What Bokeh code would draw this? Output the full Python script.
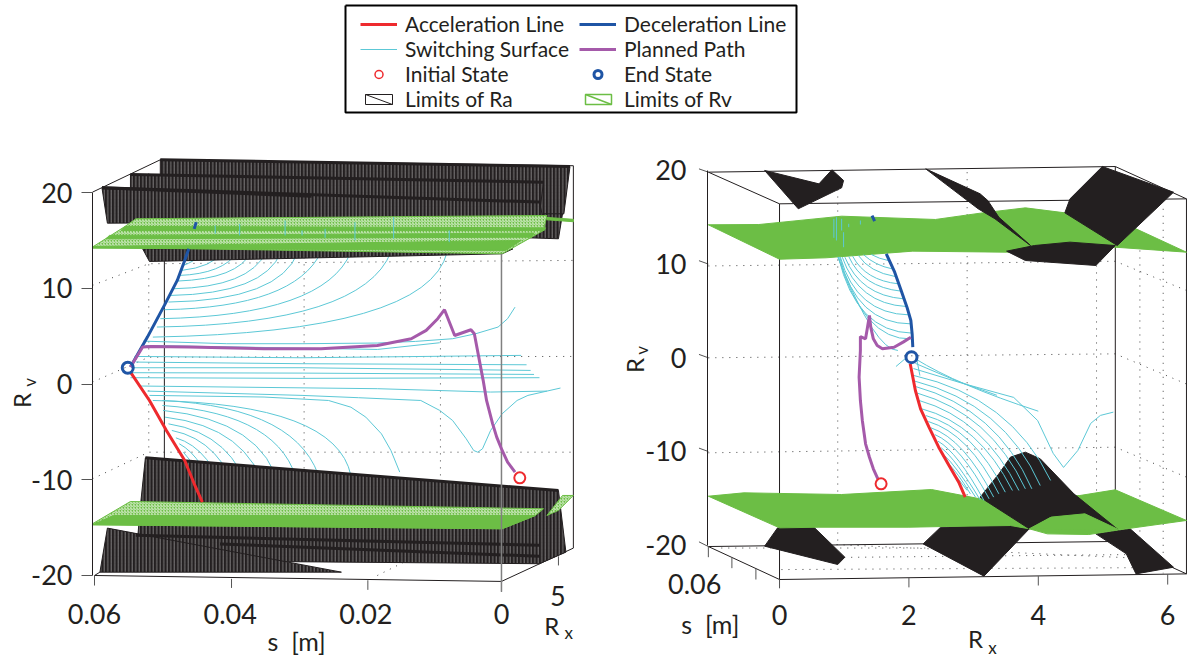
from bokeh.plotting import figure
from bokeh.layouts import column, row
from bokeh.models import Range1d, FixedTicker, Label, Legend, LegendItem
from bokeh.embed import file_html
from bokeh.resources import INLINE

FONT = "Lato"
RED, BLUE, PURPLE, CYAN, GREEN, BLACK = "#EE2A2E", "#1F55A5", "#A55AAA", "#5CC8D6", "#6CBE45", "#231F20"

# ---------- left view: s [m] against Rv ----------
L_s_ticks = [0.06, 0.04, 0.02, 0]
Rv_ticks = [-20, -10, 0, 10, 20]
Rv_tick_text = {-20: "-20", -10: "-10", 0: "0", 10: "10", 20: "20"}

L_ra_xs = [
    [0.0503, -0.0101, -0.0092, -0.0062, 0.0503],
    [0.0547, -0.0062, -0.0056, 0.0547],
    [0.0589, -0.0056, -0.0062, 0.0581],
    [0.0529, -0.0017, -0.0001, 0.0519],
    [-0.0062, -0.009, -0.0084, -0.0039],
    [0.0525, -0.0084, -0.0095, -0.0056, 0.0539, 0.0533],
    [0.0581, 0.0236, 0.0592],
]
L_ra_ys = [
    [23.42, 22.72, 17.78, 17.08, 17.78],
    [21.88, 21.08, 17.78, 18.13],
    [20.49, 19.0, 17.08, 16.8],
    [14.12, 14.12, 13.6, 12.8],
    [17.78, 17.78, 15.17, 15.27],
    [-7.71, -11.12, -17.56, -18.77, -18.43, -13.2],
    [-15.05, -19.65, -19.65],
]
L_ra_edge_xs = [[0.0547, -0.0062], [0.0589, -0.0056], [0.0503, -0.0101], [0.0525, -0.0084], [0.0539, -0.0056], [0.0415, -0.0056], [0.0589, 0.028]]
L_ra_edge_ys = [[21.88, 21.08], [20.49, 19.0], [23.42, 22.72], [-7.71, -11.12], [-15.8, -16.85], [-16.7, -18.0], [20.49, 19.6]]

L_rv_xs = [
    [0.0603, 0.0555, 0.0539, -0.0067, -0.0062, -0.0001],
    [0.0603, 0.0547, -0.0062, -0.005, -0.0001, 0.0603],
    [-0.0067, -0.009, -0.0106, -0.0084],
]
L_rv_ys = [
    [14.3, 16.46, 17.26, 17.6, 16.04, 13.6],
    [-14.6, -12.27, -13.03, -13.73, -15.12, -14.7],
    [-13.73, -11.64, -11.64, -13.2],
]
L_rv_solid_xs = [
    [0.0555, -0.0065, -0.0063, 0.0561],
    [0.0578, -0.0048, -0.0045, 0.0583],
    [0.0603, -0.0029, -0.0006, 0.0603],
    [-0.0067, -0.0106, -0.0106, -0.0067],
    [0.0572, -0.005, -0.0001, 0.0603],
]
L_rv_solid_ys = [
    [16.46, 16.32, 16.04, 16.04],
    [15.52, 15.76, 15.34, 15.17],
    [14.37, 14.99, 13.95, 14.19],
    [17.4, 17.2, 16.95, 17.15],
    [-13.73, -13.73, -15.12, -14.7],
]

L_frame_xs = [[0.0497, 0.0497], [-0.0106, -0.0106], [0.0603, 0.0503], [0.0503, -0.0106],
              [0.06, 0.0], [0.0, -0.0106], [0.06, 0.0592]]
L_frame_ys = [[23.42, -15.0], [22.8, -17.14], [20.04, 23.42], [23.42, 22.8],
              [-20.0, -20.62], [-20.62, -17.14], [-20.0, -19.65]]
L_front_xs = [[0.0, 0.0]]
L_front_ys = [[13.6, -21.7]]
L_tick_xs = [[0.06, 0.06], [0.0398, 0.0398], [0.0197, 0.0197], [0.0, 0.0], [-0.0084, -0.0084]]
L_tick_ys = [[-20.0, -21.05], [-20.35, -21.3], [-20.5, -21.5], [-20.62, -21.7], [-18.0, -18.95]]

L_dot_xs = [[0.0603, 0.052, -0.0106], [0.0603, 0.052, -0.0106], [0.0603, 0.052, -0.0106],
            [0.052, 0.052], [0.0291, 0.0291], [0.009, 0.009], [0.0183, 0.009]]
L_dot_ys = [[10.3, 12.56, 12.91], [0.2, 2.8, 2.88], [-9.9, -7.12, -7.12],
            [22.0, -7.12], [22.0, -16.7], [22.0, -16.7], [-20.0, -16.7]]

L_blue_s = [0.0547, 0.0522, 0.0497, 0.0478, 0.0467, 0.0461]
L_blue_v = [1.77, 4.9, 8.21, 10.82, 12.91, 14.12]
L_blue2_s = [0.0450, 0.0453]
L_blue2_v = [16.91, 16.21]
L_red_s = [0.0547, 0.0519, 0.0494, 0.0467, 0.0453, 0.0441]
L_red_v = [1.25, -1.72, -4.85, -7.99, -10.42, -12.33]
L_path_s = [0.0547, 0.0529, 0.0517, 0.0461, 0.0350, 0.0266, 0.0183, 0.0133, 0.0111, 0.0094, 0.0084,
            0.0069, 0.0045, 0.0040, 0.0027, 0.0022, 0.0013, 0.0007, -0.0001, -0.0009, -0.0020]
L_path_v = [1.77, 3.86, 3.93, 3.86, 3.68, 3.68, 4.03, 4.73, 5.6, 6.82, 7.76,
            5.07, 5.67, 5.25, 0.38, -1.72, -4.16, -5.55, -6.94, -8.16, -9.2]
L_init = (-0.0027, -9.8)
L_end = (0.0551, 1.7)

# quadratic switching curves: start, control, end
L_q_s0 = [.0469, .0472, .0475, .0478, .0483, .0488, .0491, .0497, .0503, .0508, .0514,
          .0514, .0500, .0500, .0499, .0496, .0491, .0486, .0480, .0475, .0469, .0464]
L_q_v0 = [12.38, 11.86, 11.34, 10.75, 9.95, 9.25, 8.56, 7.76, 6.82, 5.95, 4.9,
          -1.72, -1.72, -2.24, -2.76, -3.46, -4.16, -4.85, -5.62, -6.24, -7.12, -8.16]
L_q_sc = [.0455, .0427, .0411, .0389, .0372, .0350, .0327, .0305, .0261, .0205, .0110,
          .0244, .0294, .0322, .0350, .0372, .0394, .0411, .0427, .0439, .0447, .0453]
L_q_vc = [12.73, 12.21, 11.51, 10.99, 10.12, 9.43, 8.73, 8.03, 7.16, 6.29, 5.42,
          -2.07, -2.42, -3.11, -3.81, -4.5, -5.2, -5.9, -6.77, -7.64, -8.68, -9.55]
L_q_s1 = [.0436, .0411, .0389, .0369, .0347, .0325, .0300, .0266, .0222, .0163, .0080,
          .0222, .0266, .0300, .0327, .0347, .0369, .0386, .0405, .0419, .0432, .0439]
L_q_v1 = [13.78, 13.78, 13.78, 13.78, 13.78, 13.78, 13.78, 13.78, 13.78, 13.78, 13.78,
          -9.55, -10.42, -10.6, -10.94, -11.46, -11.99, -12.33, -12.33, -12.33, -12.33, -11.81]
L_curve_xs = [
    [.0528, .0405, .0294, .0183, .0127, .0072, .0038, .0005, -.0009, -.0020],
    [.0525, .0183, .0091],
    [.0541, .0294, -.0029],
    [.0539, .0294, -.0037],
    [.0544, .0294, -.0043],
    [.0547, .0294, -.0048],
    [.0547, .0294, -.0056],
    [.0533, .0183, .0016, -.0067],
    [.0522, .0294, .0211, .0119, .0091, .0072, .0052, .0041, .0035, .0028, .0016, -.0001, -.0023, -.0039, -.0067, -.0087],
    [.0519, .0350, .0255, .0222, .0200, .0177, .0163, .0150],
]
L_curve_ys = [
    [4.48, 4.21, 4.21, 4.28, 4.45, 4.73, 5.25, 5.95, 6.82, 8.03],
    [4.03, 3.61, 4.31],
    [2.88, 2.74, 2.99],
    [2.29, 2.12, 2.01],
    [1.7, 1.7, 1.42],
    [1.18, 1.14, 1.0],
    [0.66, 0.59, 0.66],
    [-0.21, -0.49, -0.84, -0.74],
    [-0.74, -1.19, -1.43, -1.72, -2.76, -3.81, -5.72, -6.94, -7.12, -6.77, -4.85, -3.11, -1.72, -1.19, -0.74, -0.42],
    [-1.19, -1.36, -1.72, -2.42, -3.46, -5.2, -6.94, -9.2],
]
L_stub_s = [.0422, .0386, .0319, .0294, .0260, .0216, .0159, .0077]
L_stub_v0 = [16.56, 16.73, 17.08, 16.04, 16.21, 16.91, 17.43, 16.04]
L_stub_v1 = [15.69, 15.52, 15.52, 15.52, 15.27, 14.99, 15.17, 14.82]

# ---------- right view: Rx against Rv ----------
R_x_ticks = [0, 2, 4, 6]

R_rv_xs = [
    [-1.10, -.32, .96, 2.41, 3.10, 3.80, 4.41, 5.51, 6.29, 5.19, 3.51, 2.06, .72, 0],
    [-1.10, -.55, .96, 2.35, 3.10, 4.64, 5.19, 6.29, 5.25, 4.78, 4.14, 3.86, 3.57, 2.58, 2.0, .61, 0],
]
R_rv_ys = [
    [14.19, 14.22, 15.11, 14.76, 15.43, 16.0, 15.47, 13.76, 11.27, 11.8, 11.27, 11.38, 10.67, 10.52],
    [-14.77, -14.41, -14.59, -14.06, -15.05, -14.7, -14.09, -17.36, -18.36, -18.86, -18.79, -18.25, -17.9, -18.0, -18.08, -18.08, -18.15],
]
R_rv_front_xs = [[3.86, 4.20, 4.72, 5.25]]
R_rv_front_ys = [[-18.25, -17.0, -16.65, -18.36]]
R_ra_back_xs = [
    [-.03, .52, 1.01, .90, -.23],
    [2.49, 3.57, 3.86, 3.16, 2.22],
    [4.89, 5.42, 6.09, 5.51, 5.36],
]
R_ra_back_ys = [
    [-18.15, -18.0, -21.28, -22.06, -20.1],
    [-18.08, -17.9, -18.25, -23.3, -19.86],
    [-18.79, -18.25, -22.35, -23.06, -20.92],
]
R_ra_xs = [
    [-.23, .61, .81, .99, .96, .29],
    [2.26, 3.10, 3.22, 3.39, 3.88, 3.57, 3.33, 3.07],
    [4.99, 6.09, 5.22, 4.41, 4.49],
    [3.51, 3.94, 4.49, 5.19, 4.89, 3.8],
    [3.10, 3.39, 3.57, 3.8, 4.03, 4.55, 5.25, 4.72, 4.17, 3.86],
]
R_ra_ys = [
    [19.99, 18.56, 20.06, 18.92, 18.14, 15.9],
    [20.16, 17.5, 16.78, 15.0, 11.98, 13.58, 14.83, 15.9],
    [20.41, 17.67, 11.98, 15.47, 16.96],
    [11.38, 11.98, 12.34, 11.98, 9.85, 10.38],
    [-14.88, -12.39, -10.6, -10.07, -10.78, -14.52, -18.43, -16.65, -17.01, -18.25],
]
R_frame_xs = [[0, 0], [5.19, 5.19], [6.29, 6.29], [-1.10, 5.19], [-1.10, 0], [0, 6.29], [5.19, 6.29],
              [-1.10, 5.19], [-1.10, 0], [0, 6.29], [5.19, 6.29]]
R_frame_ys = [[16.43, -23.66], [20.41, -19.68], [16.96, -23.06], [19.81, 20.41], [19.81, 16.43], [16.43, 16.96], [20.41, 16.96],
              [-20.14, -19.6], [-20.14, -23.66], [-23.66, -23.06], [-19.6, -23.06]]
R_tick_xs = [[-1.245, -1.10], [-1.245, -1.10], [-1.245, -1.10], [-1.245, -1.10], [-1.245, -1.10],
             [0, 0], [2.0, 2.0], [4.0, 4.0], [6.0, 6.0], [-1.10, -1.10], [-.736, -.736], [-.365, -.365]]
R_tick_ys = [[20.16, 19.81], [10.36, 10.0], [0.36, 0.0], [-9.64, -10.0], [-19.64, -20.14],
             [-23.66, -24.6], [-23.48, -24.5], [-23.3, -24.3], [-23.1, -24.2], [-20.14, -21.28], [-21.35, -22.45], [-22.52, -23.66]]
R_dot_xs = [[-1.10, 5.19, 6.29], [-1.10, 5.19, 6.29], [-1.10, 5.19, 6.29],
            [.90, .90], [2.9, 2.9], [4.9, 4.9], [5.57, 5.57], [5.93, 5.93],
            [.03, 5.5], [1.0, 5.4], [-.9, 2.3], [.45, 5.9]]
R_dot_ys = [[9.8, 10.3, 7.18], [0.0, 0.42, -2.8], [-10.14, -9.54, -12.74],
            [19.45, -19.5], [19.8, -19.85], [9.85, -18.6], [11.45, -22.0], [15.9, -23.0],
            [-22.6, -22.4], [-21.3, -21.0], [-20.3, -20.3], [-19.8, -21.5]]
R_blue_x = [2.06, 2.05, 2.03, 1.97, 1.88, 1.78, 1.65]
R_blue_v = [1.13, 2.56, 3.98, 5.4, 7.18, 9.14, 11.1]
R_blue2_x = [1.47, 1.43]
R_blue2_v = [14.58, 15.18]
R_red_x = [2.02, 2.05, 2.10, 2.18, 2.31, 2.46, 2.62, 2.77, 2.87]
R_red_v = [-0.64, -1.71, -3.49, -5.45, -7.4, -9.54, -11.49, -13.27, -14.87]
R_path_x = [2.03, 1.91, 1.77, 1.59, 1.51, 1.45, 1.41, 1.39, 1.36, 1.33, 1.25, 1.25, 1.23, 1.25, 1.28, 1.33, 1.39, 1.45, 1.52]
R_path_v = [2.2, 1.67, 1.13, 0.96, 1.31, 2.02, 3.27, 4.51, 3.27, 2.02, 2.27, 0.78, -2.07, -4.56, -6.69, -9.18, -10.61, -11.85, -12.92]
R_init = (1.57, -13.45)
R_end = (2.04, 0.07)
R_q_x0 = [1.68, 1.74, 1.79, 1.84, 1.88, 1.92, 1.96, 2.0, 2.03, 2.05, 2.03, 1.83,
          2.076, 2.09, 2.10, 2.13, 2.16, 2.20, 2.26, 2.30, 2.34, 2.40, 2.45, 2.50, 2.55, 2.60, 2.67, 2.10]
R_q_v0 = [10.38, 9.49, 8.67, 7.89, 7.11, 6.29, 5.47, 4.58, 3.62, 2.63, 2.02, 0.78,
          -1.89, -2.49, -3.06, -3.77, -4.56, -5.45, -6.16, -6.8, -7.47, -8.19, -8.9, -9.61, -10.43, -11.24, -12.2, -0.11]
R_q_xc = [1.54, 1.48, 1.39, 1.33, 1.28, 1.25, 1.22, 1.19, 1.19, 1.19, 1.30, 1.48,
          3.57, 3.47, 3.36, 3.26, 3.16, 3.08, 3.00, 2.93, 2.85, 2.80, 2.75, 2.72, 2.72, 2.75, 2.77, 2.75]
R_q_vc = [10.56, 9.85, 9.14, 8.25, 7.54, 6.65, 5.76, 4.69, 3.62, 2.73, 1.85, 0.78,
          -4.2, -4.91, -5.45, -5.98, -6.51, -7.05, -7.58, -8.11, -8.65, -9.36, -10.07, -10.78, -11.49, -12.2, -12.92, -2.9]
R_q_x1 = [1.42, 1.30, 1.22, 1.13, 1.07, 1.01, .97, .94, .93, .91, .91, .90,
          4.19, 4.03, 3.90, 3.80, 3.70, 3.60, 3.49, 3.39, 3.31, 3.24, 3.16, 3.10, 3.03, 2.95, 2.90, 4.0]
R_q_v1 = [11.02, 10.99, 10.91, 10.84, 10.81, 10.74, 10.74, 10.74, 10.74, 10.74, 10.74, 10.74,
          -13.09, -13.63, -13.98, -13.98, -14.16, -14.16, -14.34, -14.52, -14.87, -15.05, -15.23, -15.16, -14.87, -14.52, -14.16, -5.7]
R_curve_xs = [[2.07, 2.84, 3.62, 3.99, 4.23, 4.39, 4.61, 4.81, 4.96, 5.16], [1.80, 1.94], [2.12, 2.17],
              [.84, .84], [.88, .88], [.99, .99], [.96, .96], [1.07, 1.07], [1.25, 1.25], [2.10, 2.75, 3.36]]
R_curve_ys = [[-1.15, -2.75, -4.23, -6.7, -10.2, -11.7, -9.9, -7.0, -6.15, -5.8], [-0.93, -0.11], [-0.11, -1.9],
              [14.83, 12.8], [15.0, 12.52], [13.4, 11.8], [14.83, 13.58], [14.3, 13.94], [14.65, 14.22], [-0.6, -2.5, -4.0]]

# ---------- legend ----------
legend_labels = ["Acceleration Line", "Switching Surface", "Initial State", "Limits of Ra",
                 "Deceleration Line", "Planned Path", "End State", "Limits of Rv"]
box_x = [345, 796, 796, 345, 345]
box_y = [5, 5, 112, 112, 5]
sw_xs = [[365, 392, 392, 365], [585, 611, 611, 585]]
sw_ys = [[94, 94, 104, 104], [94, 94, 104, 104]]
sw_dx = [[365, 392], [585, 611]]
sw_dy = [[94, 104], [94, 104]]
S_TITLE = "s\u00a0\u00a0[m]"


def panel(width, xr, yr, xloc, yloc):
    p = figure(width=width, height=508, x_range=Range1d(*xr), y_range=Range1d(*yr),
               output_backend="svg", toolbar_location=None, min_border=0,
               outline_line_color=None, x_axis_location="below", y_axis_location="left")
    p.grid.visible = False
    p.xaxis[0].fixed_location = xloc
    p.yaxis[0].fixed_location = yloc
    return p


def style_axes(p, xticks, overrides, yticks, y_out, y_standoff, x_standoff):
    ax = p.xaxis[0]
    ax.ticker = FixedTicker(ticks=xticks)
    ax.major_label_overrides = overrides
    ax.axis_line_color = None
    ax.major_tick_line_color = None
    ax.minor_tick_line_color = None
    ax.major_label_text_font = FONT
    ax.major_label_text_font_size = "27px"
    ax.major_label_text_color = BLACK
    ax.major_label_standoff = x_standoff
    ay = p.yaxis[0]
    ay.ticker = FixedTicker(ticks=yticks)
    ay.major_label_overrides = Rv_tick_text
    ay.bounds = (-20, 20)
    ay.axis_line_color = BLACK
    ay.major_tick_line_color = "#555555"
    ay.major_tick_in = 0
    ay.major_tick_out = y_out
    ay.minor_tick_line_color = None
    ay.major_label_text_font = FONT
    ay.major_label_text_font_size = "27px"
    ay.major_label_text_color = BLACK
    ay.major_label_standoff = y_standoff


def label(p, x, y, text, size, angle=0):
    p.add_layout(Label(x=x, y=y, text=text, text_font=FONT, text_font_size=size, text_color=BLACK,
                       text_align="center", text_baseline="middle", angle=angle))


# ---------- left ----------
left = panel(600, (0.07386, -0.0146), (-28.67, 24.39), -21.78, 0.0603)
style_axes(left, L_s_ticks, {0.06: "0.06", 0.04: "0.04", 0.02: "0.02", 0: "0"}, Rv_ticks, 11, 9, 5)
left.multi_line(L_dot_xs, L_dot_ys, line_color="#444444", line_dash="1 6", line_width=1)
left.multi_line(L_frame_xs, L_frame_ys, line_color=BLACK, line_width=1)
left.multi_line(L_tick_xs, L_tick_ys, line_color="#555555", line_width=1)
left.quadratic(x0=L_q_s0, y0=L_q_v0, x1=L_q_s1, y1=L_q_v1, cx=L_q_sc, cy=L_q_vc, line_color=CYAN, line_width=1)
left.multi_line(L_curve_xs, L_curve_ys, line_color=CYAN, line_width=1)
left.patches(L_ra_xs, L_ra_ys, fill_color=BLACK, line_color=BLACK, line_width=1,
             hatch_pattern="vertical_line", hatch_color="white", hatch_scale=3.5, hatch_weight=0.5, hatch_alpha=0.85)
left.multi_line(L_ra_edge_xs, L_ra_edge_ys, line_color=BLACK, line_width=3)
left.patches(L_rv_xs, L_rv_ys, fill_color=GREEN, line_color=GREEN, line_width=1,
             hatch_pattern="right_diagonal_line", hatch_color="white", hatch_scale=3, hatch_weight=0.7)
left.patches(L_rv_solid_xs, L_rv_solid_ys, fill_color=GREEN, line_color=GREEN, line_width=1)
left.segment(L_stub_s, L_stub_v0, L_stub_s, L_stub_v1, line_color=CYAN, line_width=1)
left.multi_line(L_front_xs, L_front_ys, line_color="#808080", line_width=1.5)
left.line(L_blue_s, L_blue_v, line_color=BLUE, line_width=3)
left.line(L_blue2_s, L_blue2_v, line_color=BLUE, line_width=3)
left.line(L_red_s, L_red_v, line_color=RED, line_width=3)
left.line(L_path_s, L_path_v, line_color=PURPLE, line_width=3)
left.scatter([L_init[0]], [L_init[1]], size=11, fill_color="white", line_color=RED, line_width=2)
left.scatter([L_end[0]], [L_end[1]], size=11, fill_color=None, line_color=BLUE, line_width=3)
label(left, -0.0083, -22.09, "5", "27px")
label(left, -0.0074, -25.2, "R", "24px")
label(left, -0.0099, -25.95, "x", "17px")
label(left, 0.0302, -26.8, S_TITLE, "25px")
label(left, 0.0708, -1.72, "R", "24px", 1.5708)
label(left, 0.0696, 0.16, "v", "17px", 1.5708)

# ---------- right ----------
right = panel(587, (-2.767, 6.306), (-32.09, 22.12), -24.84, -1.113)
style_axes(right, R_x_ticks, {}, Rv_ticks, 0, 21, 8)
right.multi_line(R_dot_xs, R_dot_ys, line_color="#444444", line_dash="1 6", line_width=1)
right.multi_line(R_frame_xs, R_frame_ys, line_color=BLACK, line_width=1)
right.multi_line(R_tick_xs, R_tick_ys, line_color="#555555", line_width=1)
right.patches(R_ra_back_xs, R_ra_back_ys, fill_color=BLACK, line_color=BLACK)
right.patches(R_rv_xs, R_rv_ys, fill_color=GREEN, line_color=GREEN)
right.patches(R_ra_xs, R_ra_ys, fill_color=BLACK, line_color=BLACK)
right.patches(R_rv_front_xs, R_rv_front_ys, fill_color=GREEN, line_color=GREEN)
right.quadratic(x0=R_q_x0, y0=R_q_v0, x1=R_q_x1, y1=R_q_v1, cx=R_q_xc, cy=R_q_vc, line_color=CYAN, line_width=1)
right.multi_line(R_curve_xs, R_curve_ys, line_color=CYAN, line_width=1)
right.line(R_blue_x, R_blue_v, line_color=BLUE, line_width=3)
right.line(R_blue2_x, R_blue2_v, line_color=BLUE, line_width=3)
right.line(R_red_x, R_red_v, line_color=RED, line_width=3)
right.line(R_path_x, R_path_v, line_color=PURPLE, line_width=3)
right.scatter([R_init[0]], [R_init[1]], size=11, fill_color="white", line_color=RED, line_width=2)
right.scatter([R_end[0]], [R_end[1]], size=11, fill_color=None, line_color=BLUE, line_width=3)
label(right, -1.31, -24.09, "0.06", "27px")
label(right, -1.07, -28.36, S_TITLE, "25px")
label(right, 3.03, -29.96, "R", "24px")
label(right, 3.29, -30.92, "x", "17px")
label(right, -2.24, -0.82, "R", "24px", 1.5708)
label(right, -2.13, 0.78, "v", "17px", 1.5708)

# ---------- legend panel ----------
top = figure(width=1187, height=150, x_range=Range1d(0, 1187), y_range=Range1d(150, 0),
             output_backend="svg", toolbar_location=None, min_border=0, outline_line_color=None)
top.axis.visible = False
top.grid.visible = False
top.line(box_x, box_y, line_color="black", line_width=2)
off = [-100, -90]
g0 = top.line(off, off, line_color=RED, line_width=3)
g1 = top.line(off, off, line_color=CYAN, line_width=1)
g2 = top.scatter(off, off, fill_color="white", line_color=RED, line_width=1.5)
g3 = top.line(off, off, line_color=None)
g4 = top.line(off, off, line_color=BLUE, line_width=3)
g5 = top.line(off, off, line_color=PURPLE, line_width=3)
g6 = top.scatter(off, off, fill_color="white", line_color=BLUE, line_width=3)
g7 = top.line(off, off, line_color=None)
items = [LegendItem(label=t, renderers=[r]) for t, r in zip(legend_labels, [g0, g1, g2, g3, g4, g5, g6, g7])]
leg = Legend(items=items, ncols=2, location=(360, 39), margin=0, padding=0,
             label_text_font=FONT, label_text_font_size="21px", label_text_color=BLACK,
             glyph_width=37, glyph_height=20, label_height=20, spacing=0, label_standoff=8, label_width=174,
             border_line_color=None, background_fill_alpha=0)
top.add_layout(leg)
top.patches(sw_xs, sw_ys, fill_color="white", line_color=[BLACK, GREEN], line_width=[1, 1.5], level="overlay")
top.multi_line(sw_dx, sw_dy, line_color=[BLACK, GREEN], line_width=[1, 1.5], level="overlay")

page = column(top, row(left, right, spacing=0), spacing=0)
open("out.html", "w").write(file_html(page, INLINE))
